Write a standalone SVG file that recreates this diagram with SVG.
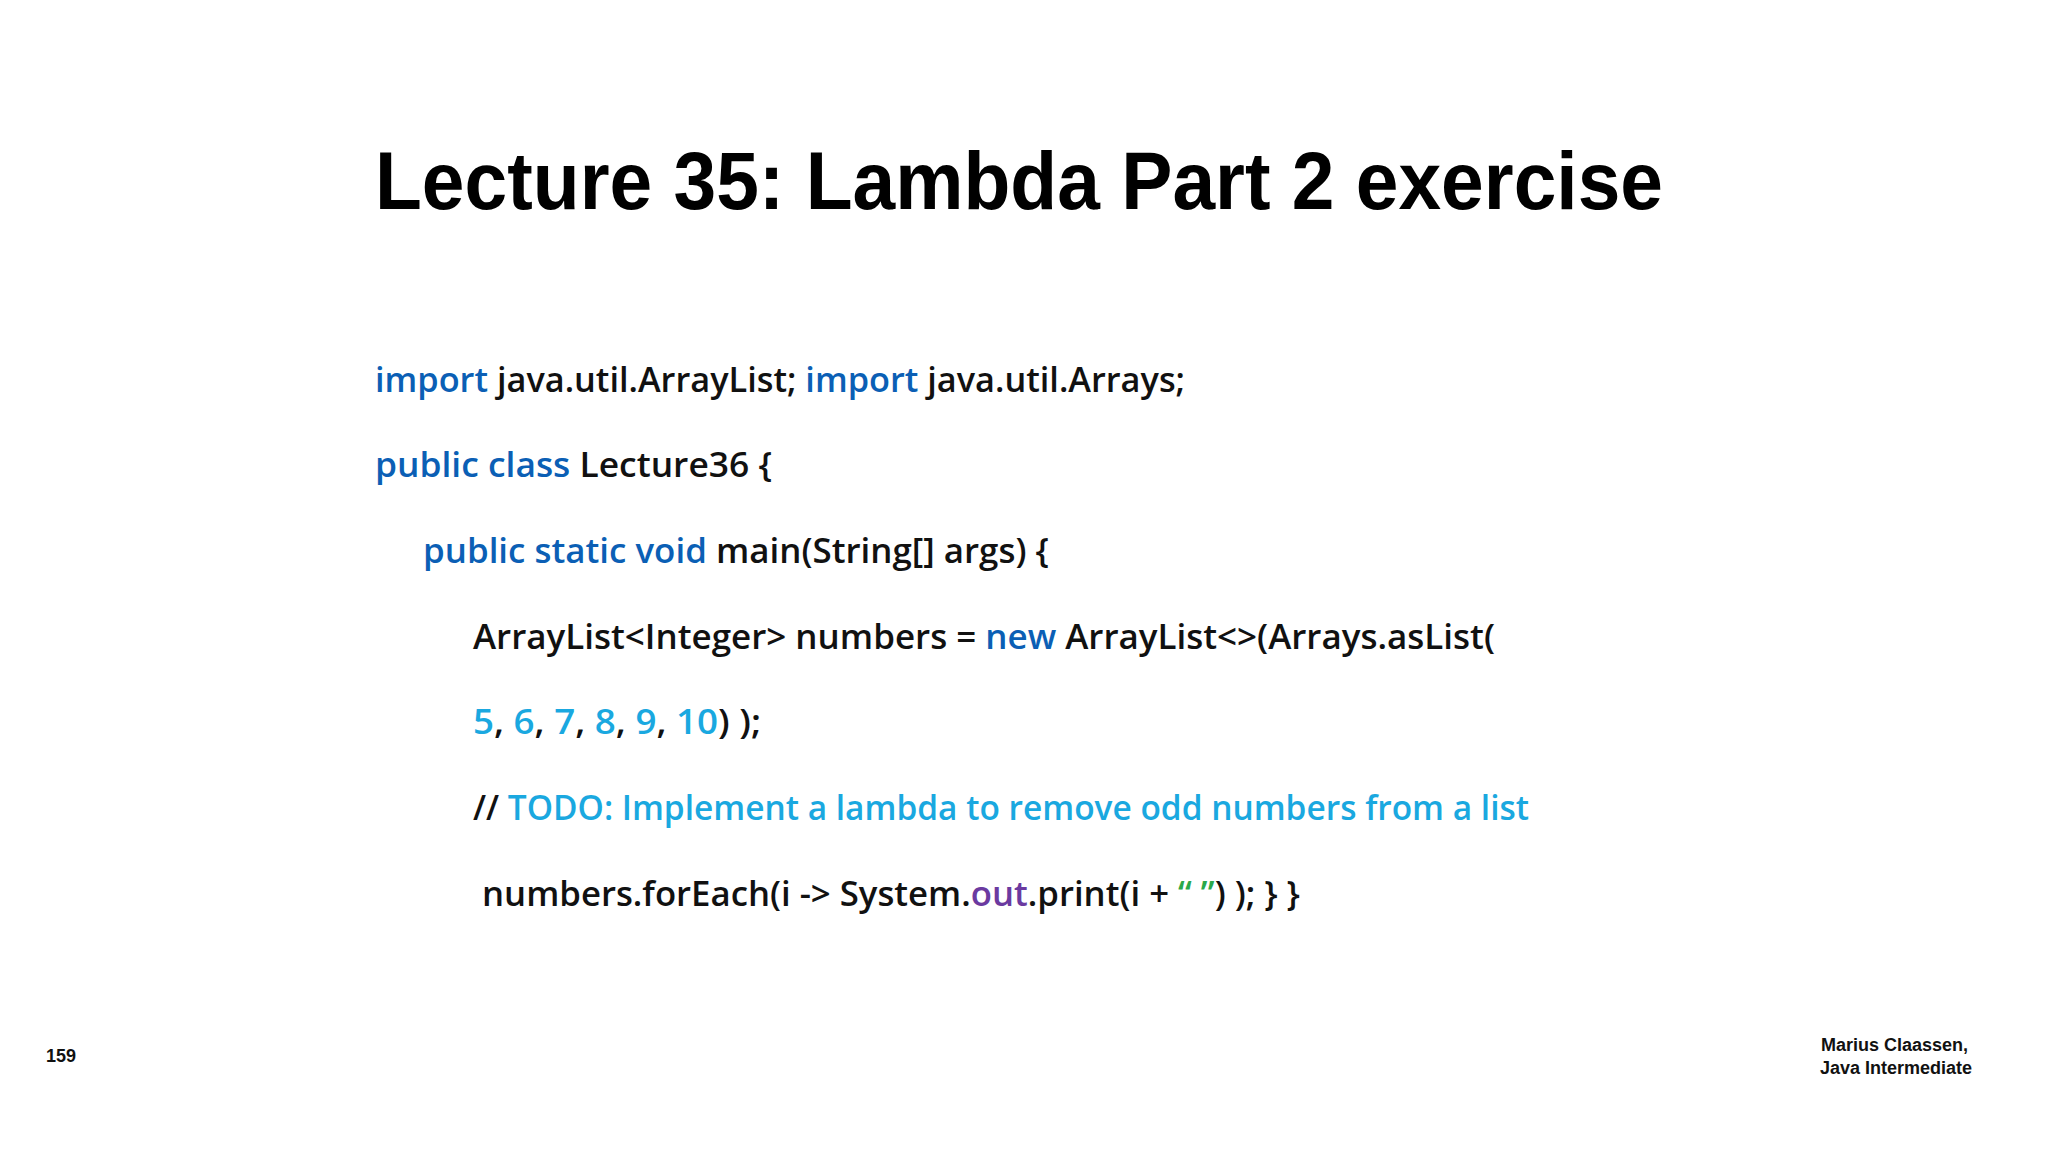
<svg xmlns="http://www.w3.org/2000/svg" width="2048" height="1152" viewBox="0 0 2048 1152">
<style>
.c{font-family:"Open Sans","Liberation Sans",sans-serif;font-size:34px;font-weight:600;fill:#111}
.k{fill:#0b5fb5}.n{fill:#1aa8e0}.g{fill:#2aa84a}.p{fill:#6b3aa0}
.f{font-family:"Liberation Sans",sans-serif;font-size:18px;font-weight:bold;fill:#111}
</style>
<rect width="2048" height="1152" fill="#fff"/>
<g id="title"><text x="375" y="209" font-family="Liberation Sans,sans-serif" font-weight="bold" font-size="82" fill="#000" textLength="1288" lengthAdjust="spacingAndGlyphs">Lecture 35: Lambda Part 2 exercise</text></g>
<g id="code">
<text class="c" x="375" y="392" textLength="810" lengthAdjust="spacingAndGlyphs"><tspan class="k">import</tspan> java.util.ArrayList; <tspan class="k">import</tspan> java.util.Arrays;</text>
<text class="c" x="375" y="477" textLength="397" lengthAdjust="spacingAndGlyphs"><tspan class="k">public class</tspan> Lecture36 {</text>
<text class="c" x="423" y="563" textLength="626" lengthAdjust="spacingAndGlyphs"><tspan class="k">public static void</tspan> main(String[] args) {</text>
<text class="c" x="473" y="649" textLength="1022" lengthAdjust="spacingAndGlyphs">ArrayList&lt;Integer&gt; numbers = <tspan class="k">new</tspan> ArrayList&lt;&gt;(Arrays.asList(</text>
<text class="c" x="473" y="734" textLength="288" lengthAdjust="spacingAndGlyphs"><tspan class="n">5</tspan>, <tspan class="n">6</tspan>, <tspan class="n">7</tspan>, <tspan class="n">8</tspan>, <tspan class="n">9</tspan>,  <tspan class="n">10</tspan>) );</text>
<text class="c" x="473" y="820" textLength="1056" lengthAdjust="spacingAndGlyphs">// <tspan class="n">TODO: Implement a lambda to remove odd numbers from a list</tspan></text>
<text class="c" x="482" y="906" textLength="818" lengthAdjust="spacingAndGlyphs">numbers.forEach(i -&gt; System.<tspan class="p">out</tspan>.print(i + <tspan class="g">“ ”</tspan>) ); } }</text>
</g>
<g id="footer">
<text class="f" x="46" y="1062">159</text>
<text class="f" x="1968" y="1051" text-anchor="end">Marius Claassen,</text>
<text class="f" x="1972" y="1074" text-anchor="end">Java Intermediate</text>
</g>
</svg>
